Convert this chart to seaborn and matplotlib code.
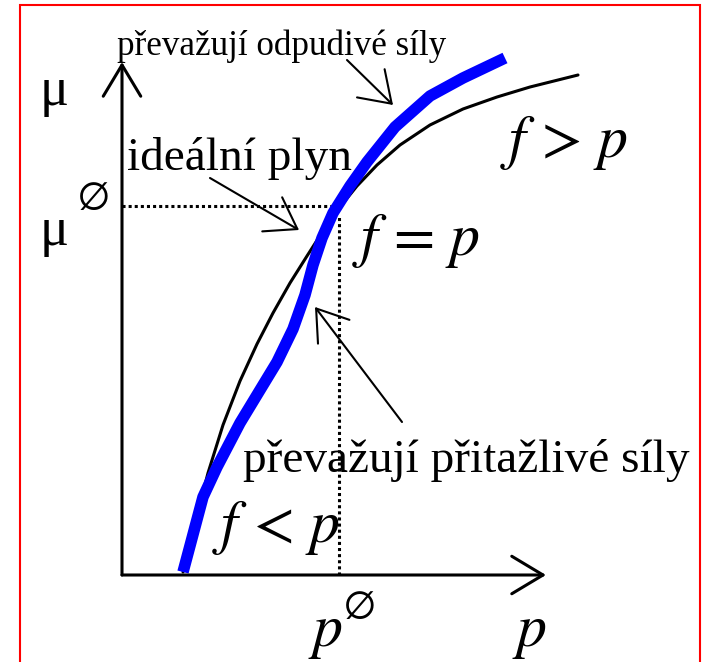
import numpy as np
import pandas as pd
import matplotlib
matplotlib.use('Agg')
import matplotlib.pyplot as plt
import matplotlib.patches as patches
import seaborn as sns

# ideal gas curve (black), p and mu in arbitrary units
ideal_p = [0.61, 0.75, 0.86, 1.01, 1.18, 1.35, 1.51, 1.68, 1.85, 2.01, 2.18, 2.35, 2.55, 2.78,
           3.08, 3.41, 3.75, 4.08, 4.56]
ideal_mu = [0.03, 0.60, 1.02, 1.50, 1.94, 2.31, 2.62, 2.92, 3.19, 3.44, 3.68, 3.89, 4.10, 4.30,
            4.50, 4.66, 4.78, 4.88, 5.00]

# real gas curve (blue)
real_p = [0.61, 0.81, 0.95, 1.18, 1.38, 1.55, 1.71, 1.83, 1.91, 2.00, 2.11, 2.28, 2.45, 2.73,
          3.08, 3.41, 3.83]
real_mu = [0.03, 0.78, 1.08, 1.52, 1.85, 2.13, 2.46, 2.80, 3.10, 3.37, 3.62, 3.89, 4.13, 4.48,
           4.79, 4.97, 5.17]

# standard state
p_std = 2.17
mu_std = 3.69

# axis ends
p_max = 4.24
mu_max = 5.13

labels = {
    'repulse': 'převažují odpudivé síly',
    'ideal': 'ideální plyn',
    'attract': 'převažují přitažlivé síly',
}

ideal = pd.DataFrame({'p': ideal_p, 'mu': ideal_mu})
real = pd.DataFrame({'p': real_p, 'mu': real_mu})

sns.set_style('white')
plt.rcParams['font.family'] = ['Liberation Serif', 'DejaVu Serif']
plt.rcParams['mathtext.fontset'] = 'stix'
plt.rcParams['text.color'] = 'black'

fig = plt.figure(figsize=(7.06, 6.62), dpi=100)
ax = fig.add_axes([0, 0, 1, 1])
ax.set_xlim(-1.22, 5.84)
ax.set_ylim(-0.87, 5.75)
ax.axis('off')

# dotted guides to the standard state
ax.plot([0, p_std], [mu_std, mu_std], color='black', lw=2.2, linestyle=(0, (1, 1)))
ax.plot([p_std, p_std], [0, mu_std - 0.09], color='black', lw=2.2, linestyle=(0, (1, 1)))

# curves
sns.lineplot(data=ideal, x='p', y='mu', color='black', linewidth=2.2, sort=False, ax=ax)
sns.lineplot(data=real, x='p', y='mu', color='#0000ff', linewidth=8.3, sort=False, ax=ax,
             solid_capstyle='butt')

# axes with open arrowheads
axis_arrow = dict(arrowstyle='->, head_length=2.25, head_width=1.35', lw=2.2, color='black',
                  shrinkA=0, shrinkB=0, mutation_scale=10)
ax.annotate('', xy=(p_max, 0), xytext=(0, 0), arrowprops=axis_arrow)
ax.annotate('', xy=(0, mu_max), xytext=(0, 0), arrowprops=axis_arrow)

# labelled pointers
pointer = dict(arrowstyle='->, head_length=2.1, head_width=1.42', lw=1.5, color='black',
               shrinkA=0, shrinkB=0, mutation_scale=10)
ax.annotate('', xy=(2.71, 4.70), xytext=(2.25, 5.15), arrowprops=pointer)
ax.annotate('', xy=(1.77, 3.45), xytext=(0.88, 3.97), arrowprops=pointer)
ax.annotate('', xy=(1.93, 2.68), xytext=(2.80, 1.53), arrowprops=pointer)

ax.text(-0.05, 5.20, labels['repulse'], fontsize=25.2, ha='left', va='baseline')
ax.text(0.05, 4.05, labels['ideal'], fontsize=34, ha='left', va='baseline')
ax.text(1.21, 1.03, labels['attract'], fontsize=34, ha='left', va='baseline')

ax.text(2.30, 3.20, r'$f\,=\,p$', fontsize=43, ha='left', va='baseline')
ax.text(3.78, 4.18, r'$f\,>\,p$', fontsize=43, ha='left', va='baseline')
ax.text(0.90, 0.33, r'$f\,<\,p$', fontsize=43, ha='left', va='baseline')

# axis labels
ax.text(3.90, -0.71, r'$p$', fontsize=43, ha='left', va='baseline')
ax.text(1.86, -0.71, r'$p$', fontsize=43, ha='left', va='baseline')
ax.text(2.21, -0.31, r'$\varnothing$', fontsize=30, ha='left', va='center')
ax.text(-0.82, 4.70, 'μ', fontsize=39, ha='left', va='baseline')
ax.text(-0.82, 3.30, 'μ', fontsize=39, ha='left', va='baseline')
ax.text(-0.45, 3.78, r'$\varnothing$', fontsize=30, ha='left', va='center')

# red frame
frame = patches.Rectangle((20 / 706, -0.02), 680 / 706, 1.02 - 5 / 662, fill=False,
                          edgecolor='#ff0000', lw=1.5, transform=fig.transFigure)
fig.add_artist(frame)

fig.savefig('out.png', dpi=100)
